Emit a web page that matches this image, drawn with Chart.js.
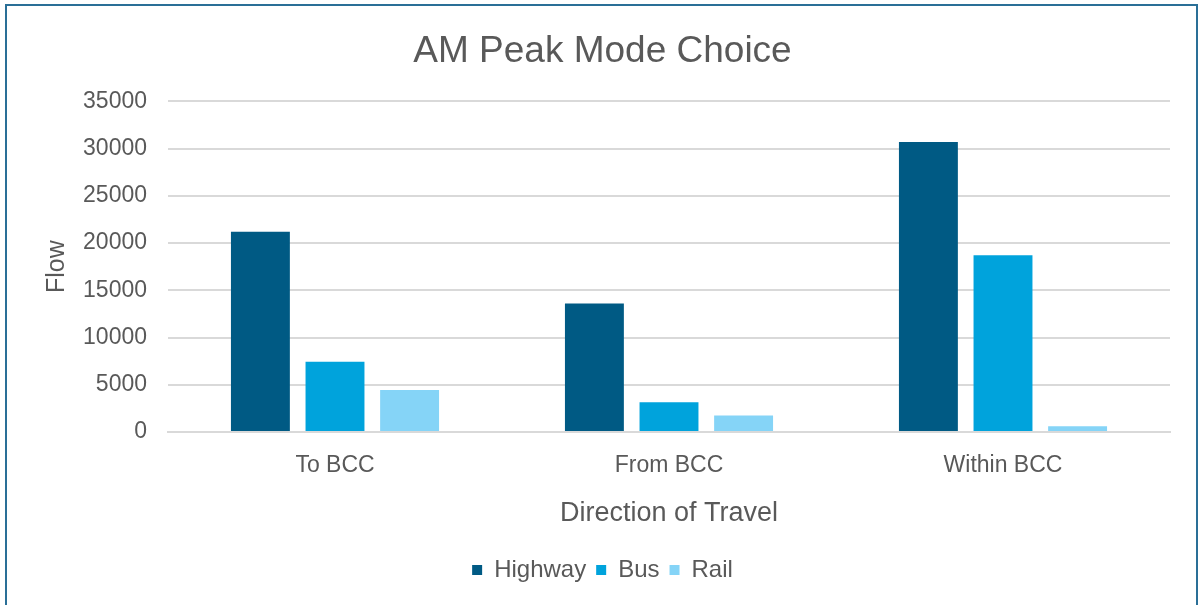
<!DOCTYPE html>
<html>
<head>
<meta charset="utf-8">
<script src="https://cdn.jsdelivr.net/npm/chart.js@4/dist/chart.umd.min.js"></script>
<style>
  html, body { margin: 0; padding: 0; background: #fff; }
  #frame {
    position: absolute; left: 5px; top: 4px; width: 1193px; height: 601px;
    border: 2px solid #2a6f97; border-bottom: none; box-sizing: border-box;
  }
  #wrap { position: absolute; left: 0; top: 0; width: 1189px; height: 599px; }
</style>
</head>
<body>
<div id="frame"><div id="wrap"><canvas id="chart"></canvas></div></div>
<script>
const categories = ['To BCC', 'From BCC', 'Within BCC'];
const highway = [21200, 13600, 30700];
const bus = [7450, 3150, 18700];
const rail = [4450, 1750, 600];
const yTicks = [0, 5000, 10000, 15000, 20000, 25000, 30000, 35000];

const grey = '#595959';
const ctx = document.getElementById('chart').getContext('2d');
new Chart(ctx, {
    type: 'bar',
    data: {
        labels: categories,
        datasets: [
            { label: 'Highway', data: highway, backgroundColor: '#005a84' },
            { label: 'Bus', data: bus, backgroundColor: '#00a3dc' },
            { label: 'Rail', data: rail, backgroundColor: '#85d4f7' }
        ]
    },
    options: {
        responsive: true,
        maintainAspectRatio: false,
        animation: false,
        layout: { padding: { left: 28, right: 26, top: 13, bottom: 13 } },
        datasets: { bar: { categoryPercentage: 0.67, barPercentage: 0.79 } },
        plugins: {
            title: {
                display: true,
                text: 'AM Peak Mode Choice',
                color: grey,
                font: { family: 'Liberation Sans', size: 37, weight: 'normal' },
                padding: { top: 11, bottom: 27 }
            },
            legend: {
                position: 'bottom',
                labels: {
                    color: grey,
                    font: { family: 'Liberation Sans', size: 24 },
                    boxWidth: 10, boxHeight: 10, padding: 10
                }
            },
            tooltip: { enabled: false }
        },
        scales: {
            x: {
                grid: { display: false },
                border: { color: '#d9d9d9', width: 2 },
                ticks: { color: grey, font: { family: 'Liberation Sans', size: 23 }, padding: 12 },
                title: {
                    display: true, text: 'Direction of Travel', color: grey,
                    font: { family: 'Liberation Sans', size: 27 }, padding: { top: 6, bottom: 18 }
                }
            },
            y: {
                min: 0, max: 35000,
                afterBuildTicks: axis => { axis.ticks = yTicks.map(v => ({ value: v })); },
                afterFit: axis => { axis.width = 133; },
                grid: { color: '#d9d9d9', lineWidth: 2, drawTicks: false },
                border: { display: false },
                ticks: {
                    color: grey, font: { family: 'Liberation Sans', size: 23 }, padding: 21,
                    callback: v => String(v)
                },
                title: {
                    display: true, text: 'Flow', color: grey,
                    font: { family: 'Liberation Sans', size: 25 }, padding: { top: 7, bottom: 12 }
                }
            }
        }
    }
});
</script>
</body>
</html>
